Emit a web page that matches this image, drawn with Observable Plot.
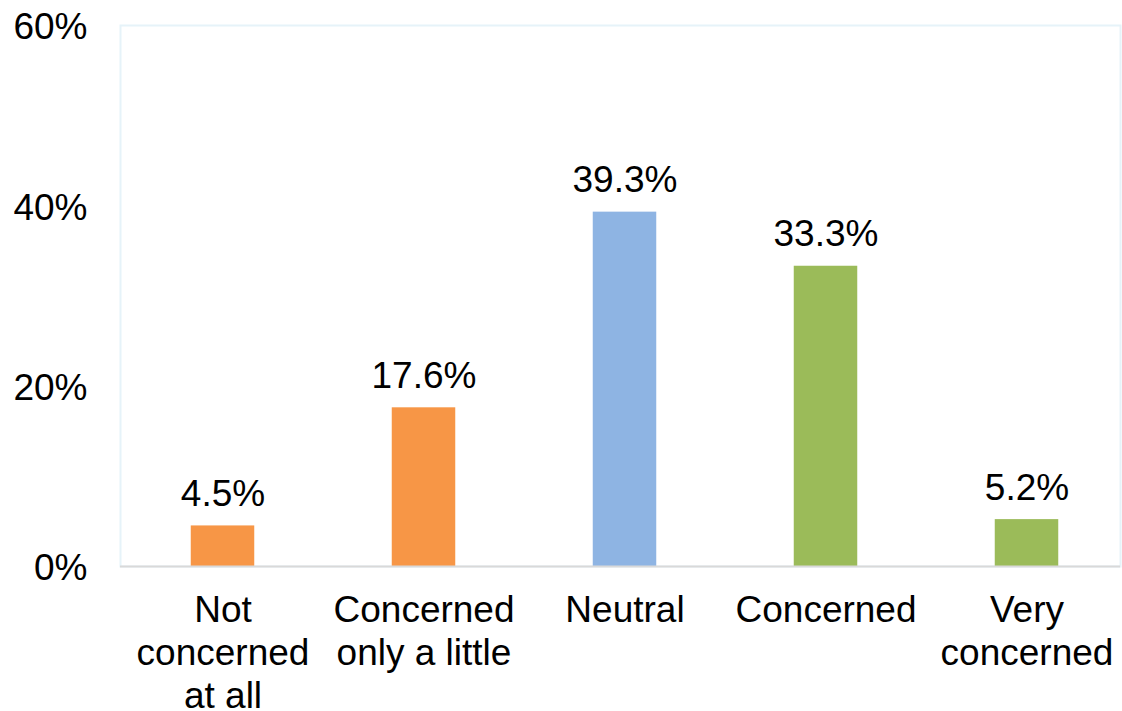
<!DOCTYPE html>
<html>
<head>
<meta charset="utf-8">
<script src="https://cdn.jsdelivr.net/npm/d3@7"></script>
<script src="https://cdn.jsdelivr.net/npm/@observablehq/plot@0.6"></script>
<style>
  html, body { margin: 0; padding: 0; background: #fff; }
  #chart svg { display: block; }
</style>
</head>
<body>
<div id="chart"></div>
<script>
// Level of concern: share of respondents per answer
const categories = ["Not\nconcerned\nat all", "Concerned\nonly a little", "Neutral", "Concerned", "Very\nconcerned"];
const values = [4.5, 17.6, 39.3, 33.3, 5.2];
const colors = ["#F79646", "#F79646", "#8EB4E3", "#9BBB59", "#9BBB59"];
const yTicks = [0, 20, 40, 60];

const data = categories.map((c, i) => ({category: c, value: values[i], color: colors[i]}));

const font = "'Liberation Sans', Arial, sans-serif";

const chart = Plot.plot({
  width: 1122,
  height: 711,
  marginLeft: 120,
  marginRight: 2,
  marginTop: 25,
  marginBottom: 145,
  style: {fontFamily: font, fontSize: "37px", color: "#000", background: "#fff"},
  x: {domain: categories, range: [120, 1128], padding: 0, label: null},
  y: {domain: [0, 60], label: null},
  marks: [
    Plot.frame({stroke: "#e6f3f9", strokeWidth: 2}),
    Plot.axisY({ticks: yTicks, tickSize: 0, tickPadding: 33, tickFormat: d => d + "%", fontSize: 37, dy: 2, label: null}),
    Plot.axisX({tickSize: 0, tickPadding: 25, fontSize: 37, lineHeight: 1.16, label: null}),
    Plot.barY(data, {x: "category", y: "value", fill: "color", insetLeft: 68.75, insetRight: 68.75}),
    Plot.ruleY([0], {stroke: "#d9d9d9", strokeWidth: 2}),
    Plot.text(data, {x: "category", y: "value", text: d => d.value.toFixed(1) + "%", lineAnchor: "bottom", dy: -20, fontSize: 37, fill: "#000"})
  ]
});

document.getElementById("chart").appendChild(chart);
</script>
</body>
</html>
